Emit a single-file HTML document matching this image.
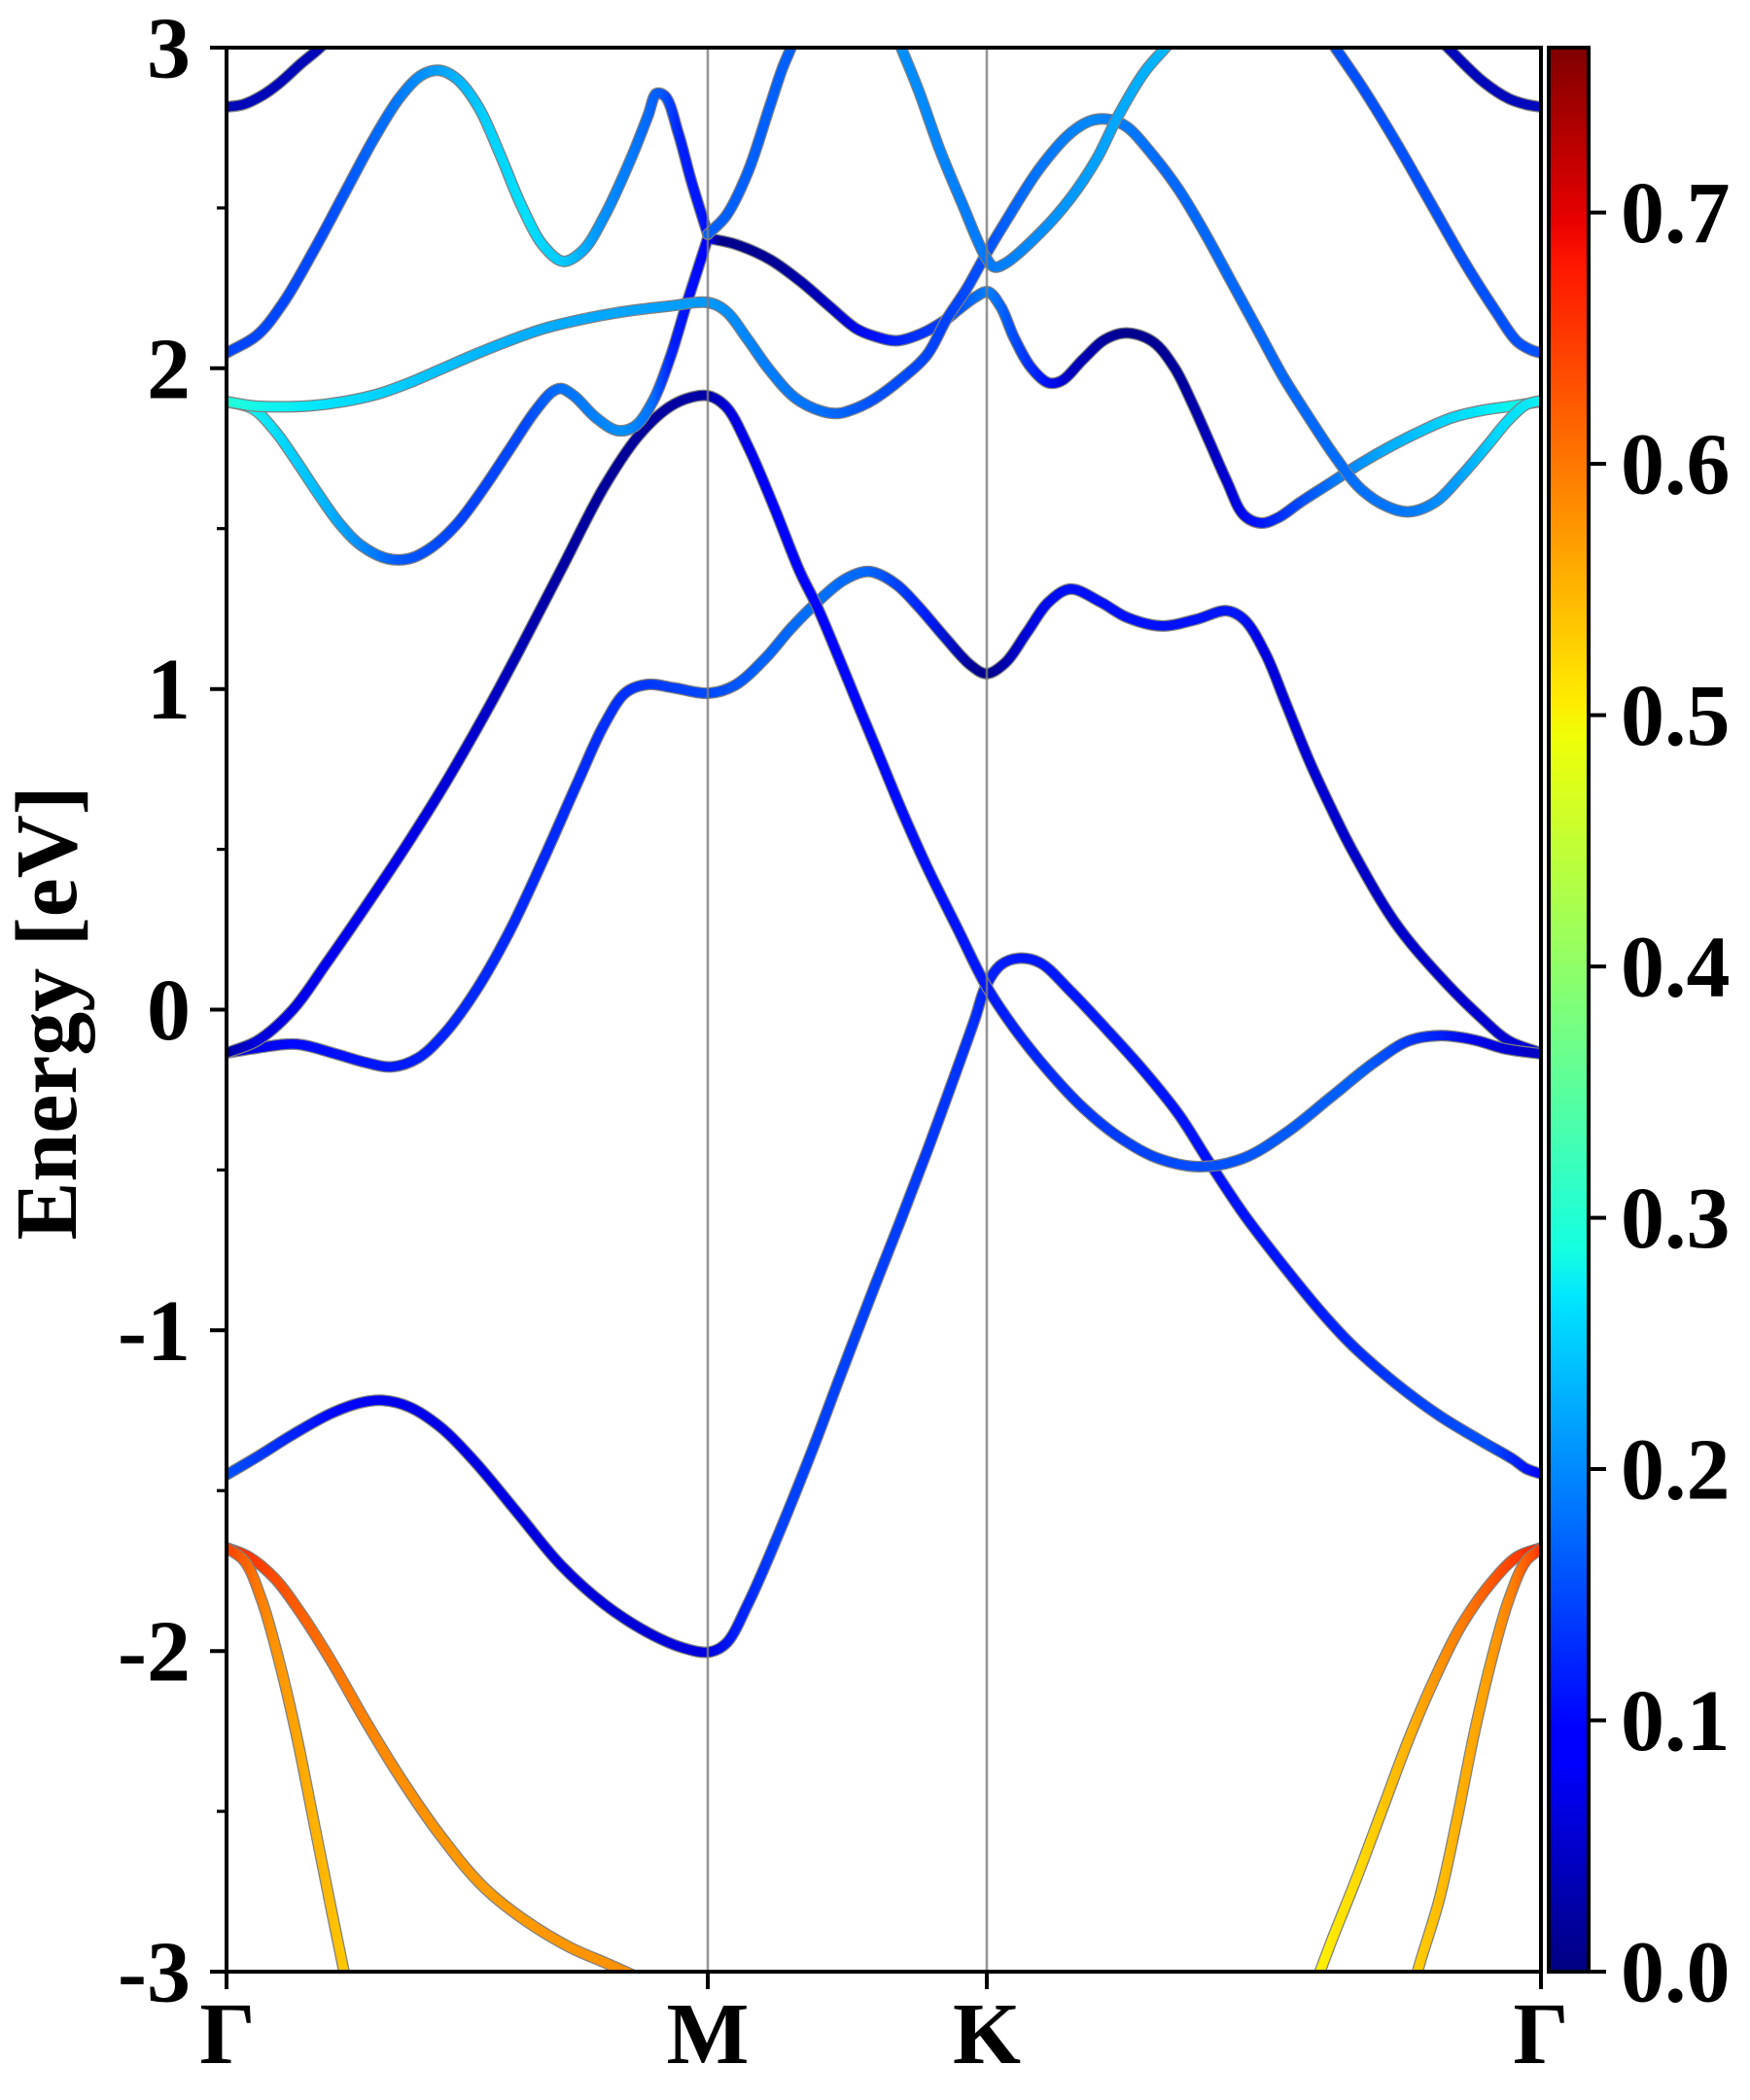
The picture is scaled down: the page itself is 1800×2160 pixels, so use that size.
<!DOCTYPE html>
<html>
<head>
<meta charset="utf-8">
<style>
html,body{margin:0;padding:0;background:#fff;}
svg{display:block;}
text{font-family:"Liberation Serif","DejaVu Serif",serif;font-weight:bold;font-size:90px;fill:#000;}
</style>
</head>
<body>
<svg width="1800" height="2160" viewBox="0 0 1800 2160" xmlns="http://www.w3.org/2000/svg">
<defs>
<clipPath id="plot"><rect x="233" y="49" width="1352" height="1979"/></clipPath>
<linearGradient id="cb" gradientUnits="userSpaceOnUse" x1="0" y1="2028" x2="0" y2="49">
<stop offset="0" stop-color="#000080"/>
<stop offset="0.11" stop-color="#0000ff"/>
<stop offset="0.125" stop-color="#0000ff"/>
<stop offset="0.34" stop-color="#00dbff"/>
<stop offset="0.35" stop-color="#00e6ff"/>
<stop offset="0.375" stop-color="#14ffe2"/>
<stop offset="0.5" stop-color="#7dff7a"/>
<stop offset="0.64" stop-color="#eeff08"/>
<stop offset="0.66" stop-color="#ffec00"/>
<stop offset="0.89" stop-color="#ff1300"/>
<stop offset="0.91" stop-color="#e80000"/>
<stop offset="1" stop-color="#800000"/>
</linearGradient>
<linearGradient id="g2" gradientUnits="userSpaceOnUse" x1="0" y1="0" x2="1800" y2="0">
<stop offset="0.1294" stop-color="#0044ff"/>
<stop offset="0.1833" stop-color="#0048ff"/>
<stop offset="0.2222" stop-color="#0070ff"/>
<stop offset="0.25" stop-color="#00a0ff"/>
<stop offset="0.2778" stop-color="#00d0ff"/>
<stop offset="0.3" stop-color="#00e0ff"/>
<stop offset="0.3222" stop-color="#00c8ff"/>
<stop offset="0.3444" stop-color="#0090ff"/>
<stop offset="0.3667" stop-color="#0070ff"/>
<stop offset="0.3778" stop-color="#0058ff"/>
<stop offset="0.3889" stop-color="#0020ff"/>
<stop offset="0.4044" stop-color="#0010ff"/>
</linearGradient>
<linearGradient id="g4" gradientUnits="userSpaceOnUse" x1="0" y1="0" x2="1800" y2="0">
<stop offset="0.1294" stop-color="#20ffd8"/>
<stop offset="0.1556" stop-color="#10f4f0"/>
<stop offset="0.1833" stop-color="#00e4ff"/>
<stop offset="0.2333" stop-color="#00c8ff"/>
<stop offset="0.2889" stop-color="#00b0ff"/>
<stop offset="0.3611" stop-color="#00a4ff"/>
<stop offset="0.4044" stop-color="#0098ff"/>
<stop offset="0.4333" stop-color="#0080ff"/>
<stop offset="0.4667" stop-color="#0070ff"/>
<stop offset="0.5" stop-color="#0050ff"/>
<stop offset="0.5389" stop-color="#0040ff"/>
<stop offset="0.5628" stop-color="#0050ff"/>
<stop offset="0.5889" stop-color="#0070ff"/>
<stop offset="0.6222" stop-color="#0088ff"/>
<stop offset="0.6667" stop-color="#0068ff"/>
<stop offset="0.75" stop-color="#0068ff"/>
<stop offset="0.8056" stop-color="#0078ff"/>
<stop offset="0.8333" stop-color="#00a0ff"/>
<stop offset="0.8556" stop-color="#00d8ff"/>
<stop offset="0.8806" stop-color="#10f0f0"/>
</linearGradient>
<linearGradient id="g5" gradientUnits="userSpaceOnUse" x1="0" y1="0" x2="1800" y2="0">
<stop offset="0.1294" stop-color="#20ffd8"/>
<stop offset="0.1444" stop-color="#10f0f0"/>
<stop offset="0.1667" stop-color="#00d0ff"/>
<stop offset="0.1889" stop-color="#00b0ff"/>
<stop offset="0.2111" stop-color="#0080ff"/>
<stop offset="0.2278" stop-color="#0058ff"/>
<stop offset="0.2667" stop-color="#0040ff"/>
<stop offset="0.3" stop-color="#0048ff"/>
<stop offset="0.3206" stop-color="#0070ff"/>
<stop offset="0.3389" stop-color="#0080ff"/>
<stop offset="0.3556" stop-color="#0090ff"/>
<stop offset="0.3722" stop-color="#0070ff"/>
<stop offset="0.3833" stop-color="#0020ff"/>
<stop offset="0.4044" stop-color="#0000ff"/>
<stop offset="0.4111" stop-color="#00008c"/>
<stop offset="0.4444" stop-color="#000098"/>
<stop offset="0.4722" stop-color="#0000c0"/>
<stop offset="0.5" stop-color="#0010ff"/>
<stop offset="0.5222" stop-color="#0030ff"/>
<stop offset="0.5417" stop-color="#0040ff"/>
<stop offset="0.5556" stop-color="#0068ff"/>
<stop offset="0.5644" stop-color="#0080ff"/>
<stop offset="0.5778" stop-color="#0050ff"/>
<stop offset="0.5972" stop-color="#0010ff"/>
<stop offset="0.6111" stop-color="#0000c0"/>
<stop offset="0.6444" stop-color="#00008c"/>
<stop offset="0.6778" stop-color="#0000a0"/>
<stop offset="0.7" stop-color="#0000d0"/>
<stop offset="0.7167" stop-color="#0010ff"/>
<stop offset="0.7389" stop-color="#0040ff"/>
<stop offset="0.7667" stop-color="#0080ff"/>
<stop offset="0.7944" stop-color="#00b0ff"/>
<stop offset="0.8222" stop-color="#00d0ff"/>
<stop offset="0.85" stop-color="#00ecf8"/>
<stop offset="0.8806" stop-color="#20ffd8"/>
</linearGradient>
<linearGradient id="g6" gradientUnits="userSpaceOnUse" x1="0" y1="0" x2="1800" y2="0">
<stop offset="0.1294" stop-color="#0000a0"/>
<stop offset="0.1444" stop-color="#0000d8"/>
<stop offset="0.1833" stop-color="#0000f0"/>
<stop offset="0.2333" stop-color="#0000e8"/>
<stop offset="0.2778" stop-color="#0000c8"/>
<stop offset="0.3111" stop-color="#0000a8"/>
<stop offset="0.3556" stop-color="#000098"/>
<stop offset="0.4044" stop-color="#0000a8"/>
<stop offset="0.4167" stop-color="#0000e0"/>
<stop offset="0.4444" stop-color="#0000ff"/>
<stop offset="0.5" stop-color="#0008ff"/>
<stop offset="0.5633" stop-color="#0018ff"/>
<stop offset="0.6111" stop-color="#0030ff"/>
<stop offset="0.6667" stop-color="#0048ff"/>
<stop offset="0.7222" stop-color="#0058ff"/>
<stop offset="0.7778" stop-color="#0060ff"/>
<stop offset="0.8111" stop-color="#0030ff"/>
<stop offset="0.8444" stop-color="#0000e8"/>
<stop offset="0.8806" stop-color="#0000c0"/>
</linearGradient>
<linearGradient id="g7" gradientUnits="userSpaceOnUse" x1="0" y1="0" x2="1800" y2="0">
<stop offset="0.1294" stop-color="#0000d0"/>
<stop offset="0.1667" stop-color="#0008ff"/>
<stop offset="0.2222" stop-color="#0018ff"/>
<stop offset="0.2667" stop-color="#0028ff"/>
<stop offset="0.3111" stop-color="#0028ff"/>
<stop offset="0.3556" stop-color="#0030ff"/>
<stop offset="0.3889" stop-color="#0040ff"/>
<stop offset="0.4044" stop-color="#0048ff"/>
<stop offset="0.4333" stop-color="#0060ff"/>
<stop offset="0.4667" stop-color="#0070ff"/>
<stop offset="0.4944" stop-color="#0068ff"/>
<stop offset="0.5278" stop-color="#0020ff"/>
<stop offset="0.5556" stop-color="#000098"/>
<stop offset="0.5633" stop-color="#000088"/>
<stop offset="0.5722" stop-color="#0000a8"/>
<stop offset="0.5889" stop-color="#0008e0"/>
<stop offset="0.6111" stop-color="#0010ff"/>
<stop offset="0.6667" stop-color="#0010ff"/>
<stop offset="0.7056" stop-color="#0018ff"/>
<stop offset="0.7222" stop-color="#0000e0"/>
<stop offset="0.7778" stop-color="#0000c8"/>
<stop offset="0.8333" stop-color="#0000d0"/>
<stop offset="0.8806" stop-color="#0000d8"/>
</linearGradient>
<linearGradient id="g8" gradientUnits="userSpaceOnUse" x1="0" y1="0" x2="1800" y2="0">
<stop offset="0.1294" stop-color="#0050ff"/>
<stop offset="0.1556" stop-color="#0030ff"/>
<stop offset="0.1889" stop-color="#0008ff"/>
<stop offset="0.2189" stop-color="#0000f0"/>
<stop offset="0.25" stop-color="#0000e8"/>
<stop offset="0.3056" stop-color="#0000e0"/>
<stop offset="0.3611" stop-color="#0000d8"/>
<stop offset="0.4044" stop-color="#0000e0"/>
<stop offset="0.4222" stop-color="#0020ff"/>
<stop offset="0.4444" stop-color="#0040ff"/>
<stop offset="0.5" stop-color="#0040ff"/>
<stop offset="0.5556" stop-color="#0030ff"/>
<stop offset="0.5633" stop-color="#0020ff"/>
<stop offset="0.5833" stop-color="#0018ff"/>
<stop offset="0.6389" stop-color="#0018ff"/>
<stop offset="0.6944" stop-color="#0010ff"/>
<stop offset="0.75" stop-color="#0018ff"/>
<stop offset="0.8056" stop-color="#0040ff"/>
<stop offset="0.85" stop-color="#0050ff"/>
<stop offset="0.8667" stop-color="#0020ff"/>
<stop offset="0.8806" stop-color="#0000ff"/>
</linearGradient>
<linearGradient id="g11" gradientUnits="userSpaceOnUse" x1="0" y1="0" x2="1800" y2="0">
<stop offset="0.5144" stop-color="#0090ff"/>
<stop offset="0.5628" stop-color="#0078ff"/>
<stop offset="0.6111" stop-color="#0098ff"/>
<stop offset="0.6667" stop-color="#00b8ff"/>
</linearGradient>
<linearGradient id="g13" gradientUnits="userSpaceOnUse" x1="0" y1="0" x2="1800" y2="0">
<stop offset="0.1294" stop-color="#ff2800"/>
<stop offset="0.1444" stop-color="#ff3800"/>
<stop offset="0.1667" stop-color="#ff5800"/>
<stop offset="0.1889" stop-color="#ff7400"/>
<stop offset="0.2222" stop-color="#ff8c00"/>
<stop offset="0.2778" stop-color="#ff9c00"/>
<stop offset="0.3111" stop-color="#ff9800"/>
<stop offset="0.3556" stop-color="#ff9000"/>
</linearGradient>
<linearGradient id="g14" gradientUnits="userSpaceOnUse" x1="0" y1="0" x2="1800" y2="0">
<stop offset="0.1294" stop-color="#ff4000"/>
<stop offset="0.1444" stop-color="#ff7000"/>
<stop offset="0.1556" stop-color="#ff9000"/>
<stop offset="0.1722" stop-color="#ffa800"/>
<stop offset="0.1889" stop-color="#ffbc00"/>
<stop offset="0.1972" stop-color="#ffc800"/>
</linearGradient>
<linearGradient id="g15" gradientUnits="userSpaceOnUse" x1="0" y1="0" x2="1800" y2="0">
<stop offset="0.7539" stop-color="#fff000"/>
<stop offset="0.7778" stop-color="#ffd800"/>
<stop offset="0.8056" stop-color="#ffb000"/>
<stop offset="0.8333" stop-color="#ff8000"/>
<stop offset="0.8556" stop-color="#ff5000"/>
<stop offset="0.8806" stop-color="#ff2000"/>
</linearGradient>
<linearGradient id="g16" gradientUnits="userSpaceOnUse" x1="0" y1="0" x2="1800" y2="0">
<stop offset="0.81" stop-color="#ffcc00"/>
<stop offset="0.8333" stop-color="#ffb000"/>
<stop offset="0.85" stop-color="#ffa000"/>
<stop offset="0.8639" stop-color="#ff8000"/>
<stop offset="0.875" stop-color="#ff5000"/>
<stop offset="0.8806" stop-color="#ff3000"/>
</linearGradient>
</defs>

<rect x="0" y="0" width="1800" height="2160" fill="#fff"/>

<g clip-path="url(#plot)" fill="none" stroke-linejoin="round" stroke-linecap="round">
<!-- orange bands -->
<path class="s" stroke="#7f7f7f" stroke-width="12" d="M233,1592 L255.7,1601.1 L282.5,1623.4 L309.3,1659.1 L340.5,1708.2 L376.3,1770.7 L412,1828.8 L452.1,1886.8 L496.8,1940.4 L541.4,1976.1 L586.1,2002.9 L621.8,2018.5 L644.1,2028.3 L665,2038"/>
<path class="s" stroke="url(#g13)" stroke-width="9.5" d="M233,1592 L255.7,1601.1 L282.5,1623.4 L309.3,1659.1 L340.5,1708.2 L376.3,1770.7 L412,1828.8 L452.1,1886.8 L496.8,1940.4 L541.4,1976.1 L586.1,2002.9 L621.8,2018.5 L644.1,2028.3 L665,2038"/>
<path class="s" stroke="#7f7f7f" stroke-width="12" d="M233,1592 L251.3,1605.5 L269.1,1645.7 L287,1708.2 L304.8,1784.1 L322.7,1873.4 L340.5,1962.7 L353.9,2028.3 L356,2040"/>
<path class="s" stroke="url(#g14)" stroke-width="9.5" d="M233,1592 L251.3,1605.5 L269.1,1645.7 L287,1708.2 L304.8,1784.1 L322.7,1873.4 L340.5,1962.7 L353.9,2028.3 L356,2040"/>
<path class="s" stroke="#7f7f7f" stroke-width="12" d="M1353,2040 L1357.6,2028.3 L1368.8,1998.4 L1395.5,1931.4 L1422.3,1860 L1449.1,1788.6 L1475.9,1726.1 L1502.7,1672.5 L1533.9,1627.9 L1560.7,1601.1 L1585,1592"/>
<path class="s" stroke="url(#g15)" stroke-width="9.5" d="M1353,2040 L1357.6,2028.3 L1368.8,1998.4 L1395.5,1931.4 L1422.3,1860 L1449.1,1788.6 L1475.9,1726.1 L1502.7,1672.5 L1533.9,1627.9 L1560.7,1601.1 L1585,1592"/>
<path class="s" stroke="#7f7f7f" stroke-width="12" d="M1456,2040 L1458,2028.3 L1480.4,1953.8 L1498.2,1873.4 L1516.1,1784.1 L1533.9,1708.2 L1551.8,1645.7 L1569.6,1605.5 L1585,1593"/>
<path class="s" stroke="url(#g16)" stroke-width="9.5" d="M1456,2040 L1458,2028.3 L1480.4,1953.8 L1498.2,1873.4 L1516.1,1784.1 L1533.9,1708.2 L1551.8,1645.7 L1569.6,1605.5 L1585,1593"/>

<!-- band 8 -->
<path class="s" stroke="#7f7f7f" stroke-width="12" d="M233,1517 L264.6,1498.4 L300.4,1476 L340.5,1453.8 L371.8,1442.6 L394.1,1440.4 L420.9,1447.1 L452.1,1467.1 L487.9,1502.9 L532.5,1556.4 L577.1,1610 L621.8,1650.2 L666.4,1679.2 L702.1,1694.8 L728.9,1699.3 L746.8,1690.4 L769.1,1650.2 L800.4,1578.8 L836.1,1490 L864,1416 L900,1322 L926.8,1254 L953.6,1184 L980.4,1110.7 L1002.7,1048.2 L1013.8,1014.7 L1029.5,992.4 L1047.3,985.7 L1069.6,990.2 L1100.9,1019.2 L1136.6,1057.1 L1176.8,1101.8 L1212.5,1146.4 L1243.8,1195.5 L1279.5,1249.1 L1324.1,1307.1 L1362,1353 L1391.1,1384 L1435.7,1423 L1480.4,1456 L1525,1483 L1556.3,1501 L1569.6,1510.5 L1585,1516"/>
<path class="s" stroke="url(#g8)" stroke-width="9.5" d="M233,1517 L264.6,1498.4 L300.4,1476 L340.5,1453.8 L371.8,1442.6 L394.1,1440.4 L420.9,1447.1 L452.1,1467.1 L487.9,1502.9 L532.5,1556.4 L577.1,1610 L621.8,1650.2 L666.4,1679.2 L702.1,1694.8 L728.9,1699.3 L746.8,1690.4 L769.1,1650.2 L800.4,1578.8 L836.1,1490 L864,1416 L900,1322 L926.8,1254 L953.6,1184 L980.4,1110.7 L1002.7,1048.2 L1013.8,1014.7 L1029.5,992.4 L1047.3,985.7 L1069.6,990.2 L1100.9,1019.2 L1136.6,1057.1 L1176.8,1101.8 L1212.5,1146.4 L1243.8,1195.5 L1279.5,1249.1 L1324.1,1307.1 L1362,1353 L1391.1,1384 L1435.7,1423 L1480.4,1456 L1525,1483 L1556.3,1501 L1569.6,1510.5 L1585,1516"/>

<!-- band 7 -->
<path class="s" stroke="#7f7f7f" stroke-width="12" d="M233,1083 L264.6,1078 L304.8,1074 L345,1083.9 L376.3,1092.9 L403,1097.3 L429.8,1088.4 L456.6,1063.8 L487.9,1021.4 L523.6,958.9 L559.3,883 L595,802.7 L621.8,744.6 L644.1,712 L666.4,704 L693.2,707.5 L728.9,713 L755.7,705 L787,677.3 L813.8,646.1 L840.5,619.3 L867.3,597 L889.6,588 L900,589 L922.3,601.4 L944.6,623.8 L971.4,655 L998.2,684 L1014.7,692.9 L1033.9,681.8 L1056.3,650.5 L1078.6,619.3 L1100.9,605.9 L1132.1,619.3 L1158.9,634.9 L1194.6,643.8 L1230.4,637.1 L1261.6,628.2 L1279.5,637.1 L1301.8,672.8 L1322,722 L1346.4,782 L1370,833 L1391.1,875 L1435.7,950 L1480.4,1003.6 L1525,1048.2 L1551.8,1070.5 L1585,1083"/>
<path class="s" stroke="url(#g7)" stroke-width="9.5" d="M233,1083 L264.6,1078 L304.8,1074 L345,1083.9 L376.3,1092.9 L403,1097.3 L429.8,1088.4 L456.6,1063.8 L487.9,1021.4 L523.6,958.9 L559.3,883 L595,802.7 L621.8,744.6 L644.1,712 L666.4,704 L693.2,707.5 L728.9,713 L755.7,705 L787,677.3 L813.8,646.1 L840.5,619.3 L867.3,597 L889.6,588 L900,589 L922.3,601.4 L944.6,623.8 L971.4,655 L998.2,684 L1014.7,692.9 L1033.9,681.8 L1056.3,650.5 L1078.6,619.3 L1100.9,605.9 L1132.1,619.3 L1158.9,634.9 L1194.6,643.8 L1230.4,637.1 L1261.6,628.2 L1279.5,637.1 L1301.8,672.8 L1322,722 L1346.4,782 L1370,833 L1391.1,875 L1435.7,950 L1480.4,1003.6 L1525,1048.2 L1551.8,1070.5 L1585,1083"/>

<!-- band 6 -->
<path class="s" stroke="#7f7f7f" stroke-width="12" d="M233,1083 L264.6,1070.5 L300.4,1039.3 L336.1,990.2 L376.3,932 L416.4,872 L456.6,808 L487.9,754 L509,716 L532.5,672 L577.1,586 L621.8,500 L657.5,447.4 L688.8,418.4 L711.1,408.6 L728.9,407.2 L746.8,418.4 L769.1,458.6 L795.9,521 L822.7,588 L840.5,624 L862.9,677 L885,731 L900,767 L926.8,832 L953.6,892 L984.8,955 L1013.8,1013 L1042.9,1057.1 L1078.6,1101.8 L1114.3,1139.7 L1150,1168.8 L1190.2,1191.1 L1234.8,1200 L1279.5,1191.1 L1324.1,1164.3 L1368.8,1128.6 L1413.4,1092.9 L1449.1,1070.5 L1480.4,1065.2 L1516.1,1069.6 L1547.3,1078.6 L1585,1084"/>
<path class="s" stroke="url(#g6)" stroke-width="9.5" d="M233,1083 L264.6,1070.5 L300.4,1039.3 L336.1,990.2 L376.3,932 L416.4,872 L456.6,808 L487.9,754 L509,716 L532.5,672 L577.1,586 L621.8,500 L657.5,447.4 L688.8,418.4 L711.1,408.6 L728.9,407.2 L746.8,418.4 L769.1,458.6 L795.9,521 L822.7,588 L840.5,624 L862.9,677 L885,731 L900,767 L926.8,832 L953.6,892 L984.8,955 L1013.8,1013 L1042.9,1057.1 L1078.6,1101.8 L1114.3,1139.7 L1150,1168.8 L1190.2,1191.1 L1234.8,1200 L1279.5,1191.1 L1324.1,1164.3 L1368.8,1128.6 L1413.4,1092.9 L1449.1,1070.5 L1480.4,1065.2 L1516.1,1069.6 L1547.3,1078.6 L1585,1084"/>

<!-- band 5 -->
<path class="s" stroke="#7f7f7f" stroke-width="12" d="M233,413 L260.2,420.6 L282.5,442.9 L304.8,474.2 L327.1,507.7 L349.5,538.9 L371.8,561.3 L398.6,574.6 L420.9,574.6 L443.2,563.5 L470,538.9 L496.8,503.2 L523.6,463 L550.4,422.9 L568.2,402.8 L577.1,399.6 L590.5,407.2 L612.9,429.5 L635.2,442.9 L653,438.5 L670.9,413.9 L688.8,369.3 L706.6,311.3 L728,245 M728,245 L755.7,251 L791.4,266.6 L822.7,288.9 L853.9,315.7 L880.7,338 L900,346 L922.3,350.5 L949.1,342.5 L973.7,328.2 L984.8,319.3 L1002.7,305.9 L1016.1,300.1 L1029.5,315.7 L1042.9,347 L1060.7,378.2 L1078.6,393.8 L1092,391.6 L1114.3,369.3 L1136.6,349.2 L1158.9,342.5 L1185.7,351.4 L1208,378.2 L1225.9,413.9 L1243.8,454.1 L1261.6,494.4 L1279.5,530 L1297.3,538 L1315.2,532.2 L1337.5,516.6 L1368.8,496.5 L1400,476.4 L1431.3,458.6 L1462.5,442.9 L1493.8,429.5 L1525,422 L1556.3,417.5 L1585,413"/>
<path class="s" stroke="url(#g5)" stroke-width="9.5" d="M233,413 L260.2,420.6 L282.5,442.9 L304.8,474.2 L327.1,507.7 L349.5,538.9 L371.8,561.3 L398.6,574.6 L420.9,574.6 L443.2,563.5 L470,538.9 L496.8,503.2 L523.6,463 L550.4,422.9 L568.2,402.8 L577.1,399.6 L590.5,407.2 L612.9,429.5 L635.2,442.9 L653,438.5 L670.9,413.9 L688.8,369.3 L706.6,311.3 L728,245 M728,245 L755.7,251 L791.4,266.6 L822.7,288.9 L853.9,315.7 L880.7,338 L900,346 L922.3,350.5 L949.1,342.5 L973.7,328.2 L984.8,319.3 L1002.7,305.9 L1016.1,300.1 L1029.5,315.7 L1042.9,347 L1060.7,378.2 L1078.6,393.8 L1092,391.6 L1114.3,369.3 L1136.6,349.2 L1158.9,342.5 L1185.7,351.4 L1208,378.2 L1225.9,413.9 L1243.8,454.1 L1261.6,494.4 L1279.5,530 L1297.3,538 L1315.2,532.2 L1337.5,516.6 L1368.8,496.5 L1400,476.4 L1431.3,458.6 L1462.5,442.9 L1493.8,429.5 L1525,422 L1556.3,417.5 L1585,413"/>

<!-- band 4 -->
<path class="s" stroke="#7f7f7f" stroke-width="12" d="M233,413 L260.2,417.5 L287,418.4 L318.2,417.5 L353.9,413 L389.6,405 L420.9,393.8 L452.1,380.4 L487.9,364.8 L523.6,350.5 L559.3,338 L599.5,328.2 L644.1,320.2 L688.8,314.8 L728.9,311.3 L746.8,320.2 L769.1,349.2 L791.4,380.4 L818.2,409.5 L845,422.9 L862.9,425.1 L885,418 L900,410 L926.8,390 L953.6,364.8 L973.7,328.2 L993.8,297.8 L1013.8,262.1 L1033.9,228.6 L1069.6,172.8 L1100.9,137.1 L1123.2,123.8 L1141.1,122.9 L1158.9,130.4 L1185.7,159.5 L1212.5,195.2 L1239.3,239.8 L1266.1,288.9 L1292.9,338 L1319.6,387.1 L1346.4,429.5 L1373.2,469.7 L1400,503.2 L1426.8,521 L1449.1,526.4 L1475.9,516.6 L1502.7,489.8 L1529.5,458.6 L1551.8,431.8 L1569.6,416.2 L1585,412"/>
<path class="s" stroke="url(#g4)" stroke-width="9.5" d="M233,413 L260.2,417.5 L287,418.4 L318.2,417.5 L353.9,413 L389.6,405 L420.9,393.8 L452.1,380.4 L487.9,364.8 L523.6,350.5 L559.3,338 L599.5,328.2 L644.1,320.2 L688.8,314.8 L728.9,311.3 L746.8,320.2 L769.1,349.2 L791.4,380.4 L818.2,409.5 L845,422.9 L862.9,425.1 L885,418 L900,410 L926.8,390 L953.6,364.8 L973.7,328.2 L993.8,297.8 L1013.8,262.1 L1033.9,228.6 L1069.6,172.8 L1100.9,137.1 L1123.2,123.8 L1141.1,122.9 L1158.9,130.4 L1185.7,159.5 L1212.5,195.2 L1239.3,239.8 L1266.1,288.9 L1292.9,338 L1319.6,387.1 L1346.4,429.5 L1373.2,469.7 L1400,503.2 L1426.8,521 L1449.1,526.4 L1475.9,516.6 L1502.7,489.8 L1529.5,458.6 L1551.8,431.8 L1569.6,416.2 L1585,412"/>

<!-- band 2 -->
<path class="s" stroke="#7f7f7f" stroke-width="12" d="M233,363 L264.6,344.7 L291.4,311.3 L322.7,257.7 L353.9,199.6 L385.2,141.6 L412,99.2 L434.3,76.9 L452.1,72.4 L470,81.3 L492.3,110.4 L514.6,159.5 L537,213 L559.3,253.2 L579.4,268.8 L599.5,257.7 L621.8,222 L648.6,164 L666.4,119.3 L675.4,96.1 L684.3,99.2 L697.7,137.1 L711.1,186.3 L728,241"/>
<path class="s" stroke="url(#g2)" stroke-width="9.5" d="M233,363 L264.6,344.7 L291.4,311.3 L322.7,257.7 L353.9,199.6 L385.2,141.6 L412,99.2 L434.3,76.9 L452.1,72.4 L470,81.3 L492.3,110.4 L514.6,159.5 L537,213 L559.3,253.2 L579.4,268.8 L599.5,257.7 L621.8,222 L648.6,164 L666.4,119.3 L675.4,96.1 L684.3,99.2 L697.7,137.1 L711.1,186.3 L728,241"/>

<!-- band 3 -->
<path class="s" stroke="#7f7f7f" stroke-width="12" d="M728,241 L746.8,222 L769.1,177.3 L791.4,110.4 L804.8,70.2 L813.8,48.75 L820,32"/>
<path class="s" stroke="#0060ff" stroke-width="9.5" d="M728,241 L746.8,222 L769.1,177.3 L791.4,110.4 L804.8,70.2 L813.8,48.75 L820,32"/>

<!-- band 10 -->
<path class="s" stroke="#7f7f7f" stroke-width="12" d="M1362,32 L1373.2,48.75 L1400,88 L1435.7,146 L1471.4,208.6 L1507.1,271 L1538.4,320.2 L1560.7,351.4 L1575,360 L1585,363"/>
<path class="s" stroke="#0050ff" stroke-width="9.5" d="M1362,32 L1373.2,48.75 L1400,88 L1435.7,146 L1471.4,208.6 L1507.1,271 L1538.4,320.2 L1560.7,351.4 L1575,360 L1585,363"/>

<!-- band 11 -->
<path class="s" stroke="#7f7f7f" stroke-width="12" d="M920,32 L926.8,48.75 L944.6,92.5 L967,155 L989.3,208.6 L1013.8,264.4 L1022.8,274.6 L1033.9,271 L1069.6,239.8 L1100.9,204.1 L1127.7,163.9 L1150,119.3 L1176.8,74.6 L1199.1,48.75 L1212,34"/>
<path class="s" stroke="url(#g11)" stroke-width="9.5" d="M920,32 L926.8,48.75 L944.6,92.5 L967,155 L989.3,208.6 L1013.8,264.4 L1022.8,274.6 L1033.9,271 L1069.6,239.8 L1100.9,204.1 L1127.7,163.9 L1150,119.3 L1176.8,74.6 L1199.1,48.75 L1212,34"/>

<!-- band 1 -->
<path class="s" stroke="#7f7f7f" stroke-width="12" d="M233,110 L250,107.5 L270,98 L287,85.8 L309.3,65.7 L329.4,48.75 L345,32"/>
<path class="s" stroke="#0008b8" stroke-width="9.5" d="M233,110 L250,107.5 L270,98 L287,85.8 L309.3,65.7 L329.4,48.75 L345,32"/>
<path class="s" stroke="#7f7f7f" stroke-width="12" d="M1470,30 L1489,48.75 L1525,83.6 L1551.8,101.4 L1570,107.5 L1585,110"/>
<path class="s" stroke="#0008bc" stroke-width="9.5" d="M1470,30 L1489,48.75 L1525,83.6 L1551.8,101.4 L1570,107.5 L1585,110"/>

<!-- high-symmetry lines -->
<line x1="728" y1="49" x2="728" y2="2028" stroke="#7a7a7a" stroke-width="2.6" stroke-opacity="0.8"/>
<line x1="1015" y1="49" x2="1015" y2="2028" stroke="#7a7a7a" stroke-width="2.6" stroke-opacity="0.8"/>
</g>

<!-- spines -->
<rect x="233" y="49" width="1352" height="1979" fill="none" stroke="#000" stroke-width="4"/>

<!-- y ticks -->
<g stroke="#000" stroke-width="4">
<line x1="216" y1="49" x2="233" y2="49"/>
<line x1="216" y1="378.8" x2="233" y2="378.8"/>
<line x1="216" y1="708.7" x2="233" y2="708.7"/>
<line x1="216" y1="1038.5" x2="233" y2="1038.5"/>
<line x1="216" y1="1368.3" x2="233" y2="1368.3"/>
<line x1="216" y1="1698.2" x2="233" y2="1698.2"/>
<line x1="216" y1="2028" x2="233" y2="2028"/>
</g>
<g stroke="#000" stroke-width="3.2">
<line x1="223" y1="213.9" x2="233" y2="213.9"/>
<line x1="223" y1="543.7" x2="233" y2="543.7"/>
<line x1="223" y1="873.6" x2="233" y2="873.6"/>
<line x1="223" y1="1203.4" x2="233" y2="1203.4"/>
<line x1="223" y1="1533.2" x2="233" y2="1533.2"/>
<line x1="223" y1="1863.1" x2="233" y2="1863.1"/>
</g>
<!-- x ticks -->
<g stroke="#000" stroke-width="4">
<line x1="233" y1="2028" x2="233" y2="2046"/>
<line x1="728" y1="2028" x2="728" y2="2046"/>
<line x1="1015" y1="2028" x2="1015" y2="2046"/>
<line x1="1585" y1="2028" x2="1585" y2="2046"/>
</g>

<!-- y tick labels -->
<g text-anchor="end">
<text x="196" y="79.5">3</text>
<text x="196" y="409.3">2</text>
<text x="196" y="739.2">1</text>
<text x="196" y="1069">0</text>
<text x="196" y="1398.8">-1</text>
<text x="196" y="1728.7">-2</text>
<text x="196" y="2058.5">-3</text>
</g>

<!-- x tick labels -->
<g text-anchor="middle">
<text x="234" y="2122">Γ</text>
<text x="728" y="2122">M</text>
<text x="1015" y="2122">K</text>
<text x="1585" y="2122">Γ</text>
</g>

<!-- y axis label -->
<text transform="translate(78,1042) rotate(-90)" text-anchor="middle">Energy [eV]</text>

<!-- colorbar -->
<rect x="1593" y="49" width="41" height="1979" fill="url(#cb)" stroke="#000" stroke-width="4"/>
<g stroke="#000" stroke-width="4">
<line x1="1636" y1="2028" x2="1652" y2="2028"/>
<line x1="1636" y1="1769.5" x2="1652" y2="1769.5"/>
<line x1="1636" y1="1511" x2="1652" y2="1511"/>
<line x1="1636" y1="1252.6" x2="1652" y2="1252.6"/>
<line x1="1636" y1="994.1" x2="1652" y2="994.1"/>
<line x1="1636" y1="735.6" x2="1652" y2="735.6"/>
<line x1="1636" y1="477.1" x2="1652" y2="477.1"/>
<line x1="1636" y1="218.6" x2="1652" y2="218.6"/>
</g>
<g>
<text x="1667" y="2058.5">0.0</text>
<text x="1667" y="1800">0.1</text>
<text x="1667" y="1541.5">0.2</text>
<text x="1667" y="1283.1">0.3</text>
<text x="1667" y="1024.6">0.4</text>
<text x="1667" y="766.1">0.5</text>
<text x="1667" y="507.6">0.6</text>
<text x="1667" y="249.1">0.7</text>
</g>
</svg>
<script>
(function(){
  try{
    var ps=document.querySelectorAll('path.s');
    for(var k=0;k<ps.length;k++){
      var p=ps[k], d=p.getAttribute('d');
      var subs=d.split('M');
      var out='';
      for(var s=0;s<subs.length;s++){
        var str=subs[s].replace(/L/g,' ').trim();
        if(!str.length) continue;
        var nums=str.split(/[\s,]+/).map(Number);
        var pts=[];
        for(var i=0;i+1<nums.length;i+=2) pts.push([nums[i],nums[i+1]]);
        var n=pts.length;
        if(n<3){
          out+='M'+pts.map(function(q){return q[0]+','+q[1];}).join(' L');
          continue;
        }
        var ext=[[2*pts[0][0]-pts[1][0],2*pts[0][1]-pts[1][1]]].concat(pts,[[2*pts[n-1][0]-pts[n-2][0],2*pts[n-1][1]-pts[n-2][1]]]);
        out+='M'+pts[0][0].toFixed(2)+','+pts[0][1].toFixed(2);
        for(var j=1;j<ext.length-2;j++){
          var p0=ext[j-1],p1=ext[j],p2=ext[j+1],p3=ext[j+2];
          var l1=Math.hypot(p1[0]-p0[0],p1[1]-p0[1])||1e-6;
          var l2=Math.hypot(p2[0]-p1[0],p2[1]-p1[1])||1e-6;
          var l3=Math.hypot(p3[0]-p2[0],p3[1]-p2[1])||1e-6;
          var d1=Math.sqrt(l1),d2=Math.sqrt(l2),d3=Math.sqrt(l3);
          var c1=[0,0],c2=[0,0];
          for(var a=0;a<2;a++){
            c1[a]=(l1*p2[a]-l2*p0[a]+(2*l1+3*d1*d2+l2)*p1[a])/(3*d1*(d1+d2));
            c2[a]=(l3*p1[a]-l2*p3[a]+(2*l3+3*d3*d2+l2)*p2[a])/(3*d3*(d3+d2));
          }
          out+=' C'+c1[0].toFixed(2)+','+c1[1].toFixed(2)+' '+c2[0].toFixed(2)+','+c2[1].toFixed(2)+' '+p2[0].toFixed(2)+','+p2[1].toFixed(2);
        }
      }
      p.setAttribute('d',out);
    }
  }catch(e){}
})();
</script>
</body>
</html>
